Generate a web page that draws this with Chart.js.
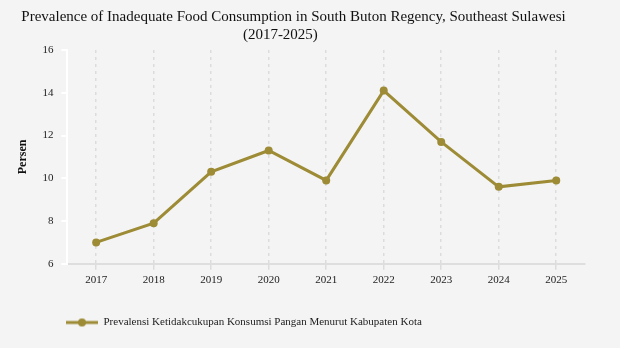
<!DOCTYPE html>
<html>
<head>
<meta charset="utf-8">
<script src="https://cdn.jsdelivr.net/npm/chart.js@4/dist/chart.umd.min.js"></script>
<style>
  html, body { margin: 0; padding: 0; background: #f4f4f4; }
  #wrap { width: 620px; height: 348px; }
</style>
</head>
<body>
<div id="wrap"><canvas id="lineChart"></canvas></div>
<script>
var years = ['2017', '2018', '2019', '2020', '2021', '2022', '2023', '2024', '2025'];
var prevalence = [7.0, 7.9, 10.3, 11.3, 9.9, 14.1, 11.7, 9.6, 9.9];
var yTicks = [6, 8, 10, 12, 14, 16];
var seriesName = 'Prevalensi Ketidakcukupan Konsumsi Pangan Menurut Kabupaten Kota';
var gold = '#9d8b35';

// legend marker: short line with a dot in the middle
var marker = document.createElement('canvas');
marker.width = 32; marker.height = 10;
var mc = marker.getContext('2d');
mc.strokeStyle = gold; mc.lineWidth = 3;
mc.beginPath(); mc.moveTo(0, 5); mc.lineTo(32, 5); mc.stroke();
mc.fillStyle = gold;
mc.beginPath(); mc.arc(16, 5, 4, 0, Math.PI * 2); mc.fill();

var shiftLegend = {
    id: 'shiftLegend',
    afterLayout: function (chart) {
        chart.legend.left += 38;
    }
};

Chart.defaults.font.family = '"Liberation Serif", "Times New Roman", serif';
Chart.defaults.color = '#222';

var ctx = document.getElementById('lineChart').getContext('2d');
var myChart = new Chart(ctx, {
    type: 'line',
    data: {
        labels: years,
        datasets: [{
            label: seriesName,
            data: prevalence,
            borderColor: gold,
            backgroundColor: gold,
            borderWidth: 3,
            pointRadius: 4,
            pointBorderWidth: 0,
            pointHoverRadius: 5,
            tension: 0
        }]
    },
    plugins: [shiftLegend],
    options: {
        responsive: true,
        maintainAspectRatio: false,
        animation: false,
        layout: { padding: { left: 2, right: 35, top: 8, bottom: 10 } },
        plugins: {
            title: {
                display: true,
                text: ['Prevalence of Inadequate Food Consumption in South Buton Regency, Southeast Sulawesi', '(2017-2025)       '],
                color: '#111',
                font: { size: 15, weight: 'normal', lineHeight: 1.2 },
                padding: { top: 0, bottom: 6 }
            },
            legend: {
                position: 'bottom',
                align: 'start',
                labels: {
                    usePointStyle: true,
                    pointStyle: marker,
                    pointStyleWidth: 32,
                    color: '#222',
                    font: { size: 11 },
                    padding: 26
                }
            },
            tooltip: { enabled: false }
        },
        scales: {
            x: {
                offset: true,
                grid: {
                    offset: false,
                    color: '#dcdcdc',
                    lineWidth: 1.5,
                    tickLength: 6
                },
                border: { display: true, color: '#dedede', width: 2, dash: [3, 4] },
                ticks: { font: { size: 11 }, color: '#222', padding: 4 }
            },
            y: {
                min: 6,
                max: 16,
                afterBuildTicks: function (axis) {
                    axis.ticks = yTicks.map(function (v) { return { value: v }; });
                },
                grid: {
                    drawOnChartArea: false,
                    color: '#ffffff',
                    lineWidth: 2,
                    tickLength: 6
                },
                border: { display: true, color: '#ffffff', width: 2 },
                ticks: { font: { size: 11 }, color: '#222', padding: 8 },
                title: {
                    display: true,
                    text: 'Persen',
                    color: '#111',
                    font: { size: 12, weight: 'bold' },
                    padding: { top: 14, bottom: 4 }
                }
            }
        }
    }
});
</script>
</body>
</html>
